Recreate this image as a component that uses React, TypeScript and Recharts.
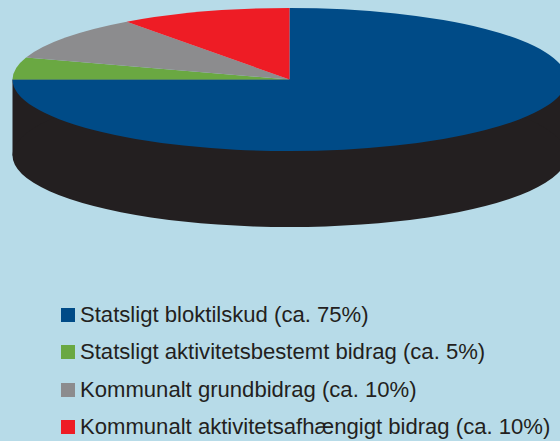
import React from 'react';
import { PieChart, Pie, Legend, Sector } from 'recharts';

const categories = [
  'Statsligt bloktilskud (ca. 75%)',
  'Statsligt aktivitetsbestemt bidrag (ca. 5%)',
  'Kommunalt grundbidrag (ca. 10%)',
  'Kommunalt aktivitetsafhængigt bidrag (ca. 10%)',
];
const shares = [75, 5, 10, 10];
const colors = ['#004b87', '#6aa842', '#8c8c8e', '#ee1c25'];

const data = categories.map((name, i) => ({ name, value: shares[i], fill: colors[i] }));
const side = [{ name: 'side', value: 100, fill: '#231f20' }];

const CX = 289.5;
const CY = 79.5;
const RADIUS = 277;
const SQUASH = 71.5 / 277;
const DEPTH = 76;

// recharts has no elliptical pie, so each sector is squashed around the centre
const squash = (cy: number) => `translate(0 ${cy}) scale(1 ${SQUASH}) translate(0 ${-cy})`;

const TopSlice = (props: any) => (
  <g transform={squash(props.cy)}>
    <Sector {...props} stroke="none" />
  </g>
);

const SideSlice = (props: any) => (
  <g>
    <rect x={props.cx - RADIUS} y={CY} width={RADIUS * 2} height={DEPTH} fill={props.fill} />
    <g transform={squash(props.cy)}>
      <Sector {...props} stroke="none" />
    </g>
  </g>
);

const LegendList = ({ payload }: any) => (
  <div>
    {(payload || [])
      .filter((entry: any) => categories.includes(entry.value))
      .map((entry: any) => (
        <div
          key={entry.value}
          style={{ display: 'flex', alignItems: 'center', height: 37.3, whiteSpace: 'nowrap' }}
        >
          <span style={{ width: 14, height: 14, marginRight: 5, background: entry.color, flex: 'none' }} />
          <span>{entry.value}</span>
        </div>
      ))}
  </div>
);

export default function App() {
  return (
    <div style={{ position: 'absolute', left: 0, top: 0, width: 560, height: 441, background: '#b7dbe8', overflow: 'hidden' }}>
      <PieChart width={560} height={441} margin={{ top: 0, right: 0, bottom: 0, left: 0 }}>
        <Pie
          data={side}
          dataKey="value"
          cx={CX}
          cy={CY + DEPTH}
          outerRadius={RADIUS}
          startAngle={90}
          endAngle={-270}
          legendType="none"
          shape={SideSlice}
          isAnimationActive={false}
        />
        <Pie
          data={data}
          dataKey="value"
          cx={CX}
          cy={CY}
          outerRadius={RADIUS}
          startAngle={90}
          endAngle={-270}
          shape={TopSlice}
          isAnimationActive={false}
        />
        <Legend
          content={LegendList}
          layout="vertical"
          itemSorter={null}
          wrapperStyle={{
            left: 61,
            top: 296.5,
            width: 499,
            bottom: 'auto',
            fontFamily: '"Liberation Sans", Arial, sans-serif',
            fontSize: 22.1,
            color: '#231f20',
          }}
        />
      </PieChart>
    </div>
  );
}
